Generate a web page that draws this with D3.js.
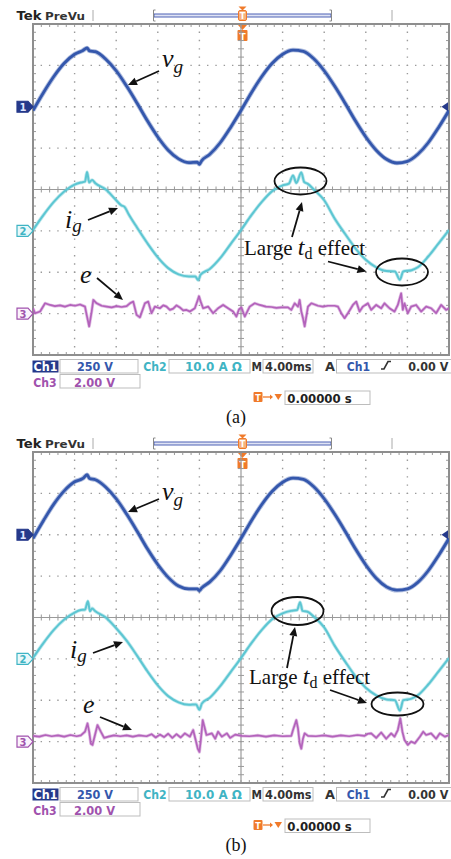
<!DOCTYPE html>
<html><head><meta charset="utf-8">
<script src="https://cdn.jsdelivr.net/npm/d3@7"></script>
<style>body{margin:0;background:#fff;} svg{display:block;}</style>
</head><body><svg id="c" width="451" height="859"></svg>
<script>
// ---------------- DATA (time in divisions, value in divisions) ----------------
const vgA = [[0,-0.09],[0.25,0.34],[0.5,0.73],[0.75,1.05],[1.0,1.27],[1.2,1.36],[1.3,1.42],[1.36,1.35],[1.5,1.33],[1.75,1.15],[2.0,0.87],[2.25,0.50],[2.5,0.09],[2.75,-0.34],[3.0,-0.73],[3.25,-1.05],[3.5,-1.26],[3.75,-1.35],[3.95,-1.34],[4.0,-1.39],[4.05,-1.31],[4.25,-1.15],[4.5,-0.87],[4.75,-0.50],[5.0,-0.09],[5.25,0.34],[5.5,0.73],[5.75,1.05],[6.0,1.27],[6.25,1.37],[6.5,1.34],[6.75,1.16],[7.0,0.87],[7.25,0.50],[7.5,0.09],[7.75,-0.34],[8.0,-0.73],[8.25,-1.05],[8.5,-1.27],[8.75,-1.36],[9.0,-1.32],[9.25,-1.15],[9.5,-0.87],[9.75,-0.50],[10.0,-0.09]];
const igA = [[0,0.02],[0.25,0.38],[0.5,0.70],[0.75,0.95],[1.0,1.12],[1.15,1.17],[1.25,1.19],[1.3,1.42],[1.35,1.17],[1.42,1.23],[1.5,1.15],[1.75,1.00],[2.0,0.74],[2.12,0.62],[2.2,0.58],[2.3,0.40],[2.5,0.08],[2.75,-0.30],[3.0,-0.64],[3.25,-0.90],[3.5,-1.05],[3.75,-1.10],[3.9,-1.10],[3.97,-1.19],[4.03,-1.06],[4.25,-0.92],[4.5,-0.66],[4.75,-0.32],[5.0,0.02],[5.25,0.38],[5.5,0.70],[5.75,0.96],[6.0,1.10],[6.15,1.14],[6.25,1.34],[6.33,1.16],[6.45,1.41],[6.52,1.18],[6.6,1.14],[6.75,1.00],[7.0,0.74],[7.25,0.30],[7.5,-0.07],[7.75,-0.42],[8.0,-0.70],[8.25,-0.88],[8.5,-0.97],[8.7,-0.98],[8.82,-1.18],[8.9,-0.98],[9.1,-0.95],[9.25,-0.88],[9.5,-0.62],[9.75,-0.30],[10.0,0.02]];
const eA = [[0,0.13],[0.05,0.01],[0.17,0.05],[0.29,0.25],[0.41,0.21],[0.53,0.18],[0.65,0.20],[0.77,0.17],[0.89,0.21],[1.01,0.19],[1.13,0.22],[1.25,0.17],[1.29,-0.03],[1.35,-0.31],[1.41,0.05],[1.45,0.33],[1.53,0.25],[1.65,0.19],[1.77,0.17],[1.89,0.15],[2.01,0.18],[2.13,0.16],[2.25,0.18],[2.33,0.25],[2.41,0.29],[2.49,-0.03],[2.57,-0.09],[2.69,0.25],[2.77,0.29],[2.85,0.01],[2.93,0.17],[3.05,0.13],[3.13,0.20],[3.21,0.17],[3.29,0.09],[3.37,0.12],[3.45,0.20],[3.53,0.15],[3.61,0.08],[3.69,0.09],[3.77,0.05],[3.89,0.13],[3.95,0.30],[3.99,0.42],[4.03,0.29],[4.09,0.13],[4.21,0.17],[4.33,0.01],[4.45,0.13],[4.57,0.21],[4.69,0.13],[4.81,0.05],[4.89,-0.07],[4.95,0.10],[5.01,0.15],[5.09,-0.07],[5.21,0.17],[5.33,0.25],[5.45,0.21],[5.6,0.17],[5.73,0.16],[5.85,0.14],[5.97,0.15],[6.13,0.15],[6.21,0.09],[6.29,0.25],[6.37,0.17],[6.41,0.33],[6.45,0.05],[6.49,-0.11],[6.53,-0.31],[6.57,-0.07],[6.61,0.17],[6.69,0.25],[6.85,0.19],[6.97,0.17],[7.09,0.19],[7.25,0.19],[7.33,0.17],[7.41,0.01],[7.49,-0.11],[7.57,0.01],[7.69,0.21],[7.77,0.29],[7.85,0.05],[7.93,0.17],[8.05,0.25],[8.13,0.09],[8.25,0.21],[8.37,0.13],[8.45,0.25],[8.57,0.13],[8.69,0.05],[8.77,0.21],[8.85,0.49],[8.89,0.09],[8.93,0.25],[9.01,0.01],[9.09,0.17],[9.21,0.21],[9.33,0.05],[9.45,0.17],[9.57,0.13],[9.69,0.01],[9.81,0.21],[9.93,0.09],[10.0,0.13]];

const vgB = [[0,-0.09],[0.25,0.34],[0.5,0.74],[0.75,1.06],[1.0,1.28],[1.2,1.36],[1.3,1.45],[1.36,1.36],[1.5,1.33],[1.75,1.15],[2.0,0.87],[2.25,0.50],[2.5,0.09],[2.75,-0.34],[3.0,-0.72],[3.25,-1.03],[3.5,-1.24],[3.75,-1.31],[3.95,-1.31],[4.0,-1.35],[4.05,-1.29],[4.25,-1.14],[4.5,-0.87],[4.75,-0.50],[5.0,-0.09],[5.25,0.34],[5.5,0.73],[5.75,1.05],[6.0,1.27],[6.25,1.37],[6.5,1.34],[6.75,1.16],[7.0,0.87],[7.25,0.50],[7.5,0.09],[7.75,-0.34],[8.0,-0.73],[8.25,-1.05],[8.5,-1.26],[8.75,-1.34],[9.0,-1.31],[9.25,-1.15],[9.5,-0.87],[9.75,-0.50],[10.0,-0.09]];
const igB = [[0,0.02],[0.25,0.38],[0.5,0.70],[0.75,0.95],[1.0,1.12],[1.15,1.18],[1.25,1.19],[1.32,1.39],[1.37,1.15],[1.42,1.22],[1.5,1.15],[1.75,1.00],[2.0,0.74],[2.25,0.44],[2.5,0.08],[2.75,-0.30],[3.0,-0.64],[3.25,-0.90],[3.5,-1.05],[3.75,-1.11],[3.92,-1.10],[4.0,-1.23],[4.06,-1.08],[4.25,-0.94],[4.5,-0.66],[4.75,-0.32],[5.0,0.02],[5.25,0.38],[5.5,0.70],[5.75,0.96],[6.0,1.10],[6.2,1.16],[6.35,1.18],[6.42,1.37],[6.48,1.16],[6.6,1.14],[6.75,1.02],[7.0,0.76],[7.25,0.32],[7.5,-0.06],[7.75,-0.42],[8.0,-0.70],[8.25,-0.88],[8.5,-0.98],[8.7,-1.00],[8.82,-1.25],[8.9,-1.00],[9.1,-0.96],[9.25,-0.88],[9.5,-0.62],[9.75,-0.30],[10.0,0.02]];
const eB = [[0,0.14],[0.15,0.12],[0.3,0.16],[0.45,0.13],[0.6,0.15],[0.75,0.12],[0.9,0.16],[1.05,0.13],[1.15,0.15],[1.25,0.24],[1.31,0.44],[1.35,0.24],[1.39,-0.05],[1.43,-0.08],[1.49,0.16],[1.55,0.40],[1.63,0.24],[1.71,0.09],[1.81,0.12],[1.95,0.15],[2.1,0.13],[2.25,0.15],[2.4,0.12],[2.55,0.15],[2.73,0.13],[2.85,0.18],[2.95,0.10],[3.05,0.17],[3.15,0.11],[3.25,0.19],[3.35,0.09],[3.45,0.18],[3.55,0.10],[3.65,0.20],[3.77,0.12],[3.85,0.28],[3.91,0.04],[3.96,-0.17],[4.0,-0.25],[4.03,0.0],[4.08,0.52],[4.12,0.36],[4.17,0.16],[4.3,0.20],[4.38,0.07],[4.45,0.24],[4.54,0.12],[4.66,0.20],[4.74,0.09],[4.86,0.17],[5.02,0.14],[5.2,0.13],[5.4,0.15],[5.6,0.12],[5.8,0.15],[6.0,0.13],[6.21,0.14],[6.25,0.28],[6.33,0.52],[6.37,0.32],[6.41,-0.04],[6.45,-0.17],[6.49,0.07],[6.53,0.20],[6.61,0.14],[6.8,0.13],[7.0,0.15],[7.2,0.12],[7.4,0.15],[7.6,0.13],[7.8,0.16],[7.97,0.14],[8.05,0.19],[8.13,0.20],[8.25,0.09],[8.37,0.22],[8.49,0.07],[8.61,0.20],[8.69,0.12],[8.77,0.28],[8.83,0.56],[8.88,0.24],[8.93,0.04],[9.01,-0.08],[9.09,0.0],[9.18,-0.04],[9.3,0.12],[9.38,0.24],[9.45,0.16],[9.57,0.20],[9.69,0.07],[9.78,0.20],[9.9,0.12],[10.0,0.16]];

const channelNames = ["Ch1", "Ch2", "Ch3"];
const channelScales = ["250 V", "10.0 A \u03A9", "2.00 V"];
const channelZeroDiv = [2, 5, 7];
const timebase = "4.00ms";
const triggerLevel = "0.00 V";
const triggerDelay = "0.00000 s";
const panelLabels = ["(a)", "(b)"];

// ---------------- LAYOUT ----------------
const svg = d3.select("#c");
const L = 33, R = 449, T = 24, B = 355;
const xs = d3.scaleLinear().domain([0, 10]).range([L, R]);
const ys = d3.scaleLinear().domain([0, 8]).range([T, B]);
const colors = {ch1: "#3457ac", ch1dark: "#25398a", ch2: "#5cc6d2", ch2t: "#3fb4c4", ch3: "#b362bb", ch3t: "#a052ad", orange: "#f07a2a", grid: "#9a9a9a"};

const panels = [
  {oy: 0, vg: vgA, ig: igA, e: eA, label: panelLabels[0],
   ann: {vg: [162, 67], vgArr: [159, 71, 128, 85], ig: [65, 228], igArr: [88, 220, 118, 208],
         e: [80, 283], eArr: [97, 278, 123, 300], el1: [300.5, 181, 26, 13.5], el2: [402, 272, 26, 13.5],
         tdArr1: [292, 237, 302, 202], tdArr2: [328, 261.5, 366.5, 271.5], td: [244, 255]}},
  {oy: 428, vg: vgB, ig: igB, e: eB, label: panelLabels[1],
   ann: {vg: [162, 72], vgArr: [159, 71, 128, 84], ig: [70, 230], igArr: [93, 225, 123, 214],
         e: [83, 285], eArr: [100, 289, 132, 302], el1: [297.5, 183, 26, 14], el2: [397.5, 276, 26, 11.5],
         tdArr1: [287, 240, 295, 199], tdArr2: [330, 262, 367, 275], td: [249, 256]}}
];

svg.append("defs").append("clipPath").attr("id", "scr")
  .append("rect").attr("x", L).attr("y", T).attr("width", R - L).attr("height", B - T);

function arrow(g, a) {
  const [x1, y1, x2, y2] = a;
  const ang = Math.atan2(y2 - y1, x2 - x1), hl = 9, hw = 4;
  const bx = x2 - hl * Math.cos(ang), by = y2 - hl * Math.sin(ang);
  g.append("line").attr("x1", x1).attr("y1", y1).attr("x2", bx).attr("y2", by)
    .attr("stroke", "#111").attr("stroke-width", 1.8);
  const px = -Math.sin(ang) * hw, py = Math.cos(ang) * hw;
  g.append("path").attr("d", `M${x2},${y2}L${bx + px},${by + py}L${bx - px},${by - py}Z`).attr("fill", "#111");
}

function sub(g, x, y, main, s, opts) {
  const t = g.append("text").attr("x", x).attr("y", y)
    .attr("font-family", "'Liberation Serif', 'Times New Roman', serif").attr("fill", "#111");
  t.append("tspan").attr("font-style", "italic").attr("font-size", opts.size).text(main);
  t.append("tspan").attr("font-style", "italic").attr("font-size", opts.sub).attr("dy", opts.dy).attr("dx", opts.dx || 0).text(s);
}

panels.forEach(p => {
  const g = svg.append("g").attr("transform", `translate(0,${p.oy})`);

  // top bar
  g.append("text").attr("x", 16.5).attr("y", 20).attr("font-family", "'DejaVu Sans', sans-serif")
    .attr("font-weight", "bold").attr("font-size", 13).attr("textLength", 25).attr("lengthAdjust", "spacingAndGlyphs")
    .attr("fill", "#222").text("Tek");
  g.append("text").attr("x", 45).attr("y", 19.5).attr("font-family", "'DejaVu Sans', sans-serif")
    .attr("font-weight", "bold").attr("font-size", 10.5).attr("textLength", 40).attr("lengthAdjust", "spacingAndGlyphs")
    .attr("fill", "#333").text("PreVu");
  [93, 392].forEach(x => g.append("line").attr("x1", x).attr("x2", x).attr("y1", 10).attr("y2", 21).attr("stroke", "#aaa").attr("stroke-width", 1));
  g.append("rect").attr("x", 154).attr("y", 14).attr("width", 177).attr("height", 3)
    .attr("fill", "#dfe3f4").attr("stroke", "#4e62b5").attr("stroke-width", 1);
  [[153.5, 1], [331.5, -1]].forEach(([x, d]) => g.append("path")
    .attr("d", `M${x + 2 * d},10L${x},10L${x},21L${x + 2 * d},21`).attr("fill", "none").attr("stroke", "#888").attr("stroke-width", 1));
  // orange trigger position markers
  g.append("path").attr("d", "M238.5,6.5L246.5,6.5L242.5,10.5Z").attr("fill", colors.orange);
  g.append("rect").attr("x", 238.5).attr("y", 10.5).attr("width", 8).attr("height", 10).attr("rx", 1.5).attr("fill", "#f6b27e").attr("stroke", colors.orange);
  g.append("text").attr("x", 242.5).attr("y", 19).attr("text-anchor", "middle").attr("font-family", "'DejaVu Sans', sans-serif")
    .attr("font-weight", "bold").attr("font-size", 8).attr("fill", "#fff").text("T");
  g.append("path").attr("d", "M238,25L247,25L242.5,30Z").attr("fill", colors.orange);
  g.append("rect").attr("x", 237.5).attr("y", 30).attr("width", 10).attr("height", 11).attr("rx", 1).attr("fill", colors.orange);
  g.append("text").attr("x", 242.5).attr("y", 39.5).attr("text-anchor", "middle").attr("font-family", "'DejaVu Sans', sans-serif")
    .attr("font-weight", "bold").attr("font-size", 9).attr("fill", "#fff").text("T");

  // grid: dotted division lines
  const sx = (R - L) / 50, sy = (B - T) / 40;
  const grid = g.append("g");
  d3.range(1, 10).filter(i => i !== 5).forEach(i => grid.append("line")
    .attr("x1", xs(i)).attr("x2", xs(i)).attr("y1", T).attr("y2", B)
    .attr("stroke", colors.grid).attr("stroke-width", 1.4).attr("stroke-dasharray", `1.4 ${sy - 1.4}`).attr("stroke-dashoffset", 0.7));
  d3.range(1, 8).filter(j => j !== 4).forEach(j => grid.append("line")
    .attr("x1", L).attr("x2", R).attr("y1", ys(j)).attr("y2", ys(j))
    .attr("stroke", colors.grid).attr("stroke-width", 1.4).attr("stroke-dasharray", `1.4 ${sx - 1.4}`).attr("stroke-dashoffset", 0.7));
  // centre cross with ticks
  grid.append("line").attr("x1", xs(5)).attr("x2", xs(5)).attr("y1", T).attr("y2", B).attr("stroke", colors.grid).attr("stroke-width", 1.2);
  grid.append("line").attr("x1", L).attr("x2", R).attr("y1", ys(4)).attr("y2", ys(4)).attr("stroke", colors.grid).attr("stroke-width", 1.2);
  d3.range(1, 50).forEach(k => {
    const x = L + k * sx;
    grid.append("line").attr("x1", x).attr("x2", x).attr("y1", ys(4) - 3).attr("y2", ys(4) + 3).attr("stroke", colors.grid).attr("stroke-width", 1);
    grid.append("line").attr("x1", x).attr("x2", x).attr("y1", T).attr("y2", T + 3).attr("stroke", colors.grid).attr("stroke-width", 1);
    grid.append("line").attr("x1", x).attr("x2", x).attr("y1", B - 3).attr("y2", B).attr("stroke", colors.grid).attr("stroke-width", 1);
  });
  d3.range(1, 40).forEach(k => {
    const y = T + k * sy;
    grid.append("line").attr("x1", xs(5) - 3).attr("x2", xs(5) + 3).attr("y1", y).attr("y2", y).attr("stroke", colors.grid).attr("stroke-width", 1);
    grid.append("line").attr("x1", L).attr("x2", L + 3).attr("y1", y).attr("y2", y).attr("stroke", colors.grid).attr("stroke-width", 1);
    grid.append("line").attr("x1", R - 3).attr("x2", R).attr("y1", y).attr("y2", y).attr("stroke", colors.grid).attr("stroke-width", 1);
  });
  g.append("rect").attr("x", L).attr("y", T).attr("width", R - L).attr("height", B - T)
    .attr("fill", "none").attr("stroke", "#8e8e8e").attr("stroke-width", 2);

  // traces
  const tr = g.append("g").attr("clip-path", "url(#scr)");
  const mk = (z, curve) => d3.line().x(d => xs(d[0])).y(d => ys(z - d[1])).curve(curve);
  const draw = (data, z, color, wBand, wCore, curve) => {
    tr.append("path").attr("d", mk(z, curve)(data)).attr("fill", "none").attr("stroke", color)
      .attr("stroke-width", wBand).attr("stroke-opacity", 0.4).attr("stroke-linejoin", "round");
    tr.append("path").attr("d", mk(z, curve)(data)).attr("fill", "none").attr("stroke", color)
      .attr("stroke-width", wCore).attr("stroke-linejoin", "round");
  };
  draw(p.vg, channelZeroDiv[0], colors.ch1, 4.6, 2.8, d3.curveMonotoneX);
  draw(p.ig, channelZeroDiv[1], colors.ch2, 3.6, 2.0, d3.curveMonotoneX);
  draw(p.e, channelZeroDiv[2], colors.ch3, 3.2, 1.7, d3.curveLinear);

  // channel markers (left)
  const m1 = ys(channelZeroDiv[0]), m2 = ys(channelZeroDiv[1]), m3 = ys(channelZeroDiv[2]);
  const marker = (y, fill, stroke, txtCol, num) => {
    g.append("path").attr("d", `M17,${y - 5.5}L28,${y - 5.5}L33,${y}L28,${y + 5.5}L17,${y + 5.5}Z`)
      .attr("fill", fill).attr("stroke", stroke).attr("stroke-width", 1.2);
    g.append("text").attr("x", 23).attr("y", y + 4).attr("text-anchor", "middle").attr("font-family", "'DejaVu Sans', sans-serif")
      .attr("font-weight", "bold").attr("font-size", 10).attr("fill", txtCol).text(num);
  };
  marker(m1, colors.ch1dark, colors.ch1dark, "#dfe6ff", "1");
  marker(m2, "#e9f8fa", colors.ch2t, colors.ch2t, "2");
  marker(m3, "#fbf3fc", colors.ch3t, colors.ch3t, "3");
  // trigger level marker (right)
  g.append("path").attr("d", `M441.5,${m1}L448,${m1 - 4.5}L448,${m1 + 4.5}Z`).attr("fill", colors.ch1dark);

  // status bar
  const sf = "'DejaVu Sans', Verdana, sans-serif";
  const st = (x, y, txt, col, w) => g.append("text").attr("x", x).attr("y", y).attr("font-family", sf)
    .attr("font-weight", "bold").attr("font-size", 11.5).attr("fill", col)
    .attr("textLength", w).attr("lengthAdjust", "spacingAndGlyphs").text(txt);
  const box = (x, y, w, h) => g.append("rect").attr("x", x).attr("y", y).attr("width", w).attr("height", h)
    .attr("fill", "#fff").attr("stroke", "#bdbdbd").attr("stroke-width", 1);
  g.append("rect").attr("x", 32.5).attr("y", 360.5).attr("width", 26).attr("height", 12).attr("fill", colors.ch1dark);
  st(33.5, 371, channelNames[0], "#fff", 24);
  box(60, 359.5, 78, 13.5); st(77, 371, channelScales[0], colors.ch1, 36);
  st(143.3, 371, channelNames[1], colors.ch2t, 23.4);
  box(169, 359.5, 81, 13.5); st(185, 371, channelScales[1], colors.ch2t, 57);
  st(251.5, 371, "M", "#333", 10.5);
  box(263, 359.5, 50, 13.5); st(265, 371, timebase, "#333", 46.5);
  st(325, 371, "A", "#333", 10);
  box(336.5, 359.5, 116, 13.5); st(346.7, 371, channelNames[0], colors.ch1, 23.3);
  g.append("path").attr("d", "M381,369L384,369L388,361.5L391,361.5").attr("fill", "none").attr("stroke", "#333").attr("stroke-width", 1.6);
  st(408.3, 371, triggerLevel, "#333", 40);
  st(33.3, 386.5, channelNames[2], colors.ch3t, 23.4);
  box(60, 374.5, 80, 13.5); st(74, 386.5, channelScales[2], colors.ch3t, 41);
  // delay row
  g.append("rect").attr("x", 253.5).attr("y", 392).attr("width", 9).attr("height", 10).attr("rx", 1).attr("fill", colors.orange);
  g.append("text").attr("x", 258).attr("y", 400.5).attr("text-anchor", "middle").attr("font-family", sf)
    .attr("font-weight", "bold").attr("font-size", 8).attr("fill", "#fff").text("T");
  g.append("line").attr("x1", 263).attr("x2", 271).attr("y1", 397).attr("y2", 397).attr("stroke", colors.orange).attr("stroke-width", 1.3);
  g.append("path").attr("d", "M270,394.5L273,397L270,399.5Z").attr("fill", colors.orange);
  g.append("path").attr("d", "M274.5,394L282,394L278.25,400Z").attr("fill", colors.orange);
  box(285, 391, 85, 13.5); st(287.3, 402.5, triggerDelay, "#222", 64.4);

  // panel label
  g.append("text").attr("x", 236).attr("y", 423).attr("text-anchor", "middle")
    .attr("font-family", "'Liberation Serif', 'Times New Roman', serif").attr("font-size", 18).attr("fill", "#111").text(p.label);

  // annotations
  const a = p.ann;
  const an = g.append("g");
  sub(an, a.vg[0], a.vg[1], "v", "g", {size: 26, sub: 19, dy: 6, dx: 0});
  arrow(an, a.vgArr);
  sub(an, a.ig[0], a.ig[1], "i", "g", {size: 26, sub: 19, dy: 4, dx: 0});
  arrow(an, a.igArr);
  an.append("text").attr("x", a.e[0]).attr("y", a.e[1]).attr("font-family", "'Liberation Serif', serif")
    .attr("font-style", "italic").attr("font-size", 26).attr("fill", "#111").text("e");
  arrow(an, a.eArr);
  [a.el1, a.el2].forEach(el => an.append("ellipse").attr("cx", el[0]).attr("cy", el[1]).attr("rx", el[2]).attr("ry", el[3])
    .attr("fill", "none").attr("stroke", "#111").attr("stroke-width", 1.8));
  arrow(an, a.tdArr1); arrow(an, a.tdArr2);
  const tt = an.append("text").attr("x", a.td[0]).attr("y", a.td[1]).attr("font-family", "'Liberation Serif', serif")
    .attr("font-size", 21).attr("fill", "#111");
  tt.append("tspan").text("Large ");
  tt.append("tspan").attr("font-style", "italic").attr("font-size", 24).text("t");
  tt.append("tspan").attr("font-size", 16).attr("dy", 4).text("d");
  tt.append("tspan").attr("dy", -4).text(" effect");
});
</script></body></html>
